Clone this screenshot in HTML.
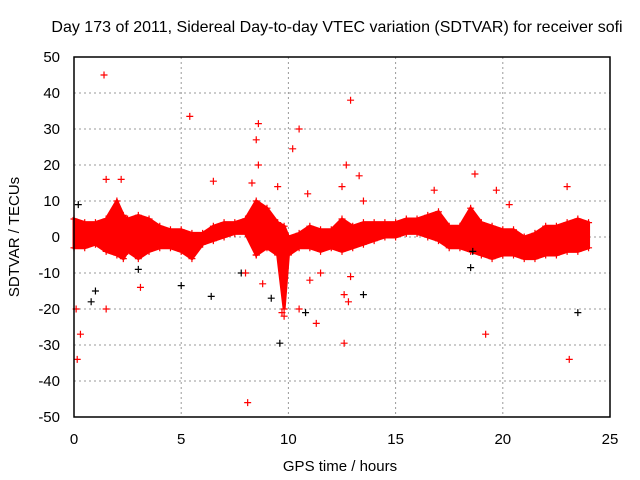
<!DOCTYPE html>
<html><head><meta charset="utf-8"><style>
body{margin:0;background:#fff}
svg{display:block;font-family:"Liberation Sans",sans-serif}
</style></head><body>
<svg id="c" width="640" height="480">
<text x="337" y="32" font-size="16" text-anchor="middle" fill="#000">Day 173 of 2011, Sidereal Day-to-day VTEC variation (SDTVAR) for receiver sofi</text>
<text x="340" y="471" font-size="15" text-anchor="middle">GPS time / hours</text>
<text transform="translate(19,237) rotate(-90)" font-size="15" text-anchor="middle">SDTVAR / TECUs</text>
<g id="grid"></g><g id="marks"></g>
<rect x="74" y="57" width="536" height="360" fill="none" stroke="#000" stroke-width="1.5"/>
</svg>
<script>
const xTicks=[0,5,10,15,20,25];
const yTicks=[-50,-40,-30,-20,-10,0,10,20,30,40,50];
const bandHours=[0,0.5,1,1.5,2,2.3,2.5,3,3.5,4,4.5,5,5.5,6,6.5,7,7.5,8,8.5,9,9.5,9.8,10,10.5,11,11.5,12,12.5,13,13.5,14,14.5,15,15.5,16,16.5,17,17.5,18,18.5,19,19.5,20,20.5,21,21.5,22,22.5,23,23.5,24];
const bandLow=[-3,-3,-2,-4,-5,-6,-4,-6,-4,-3,-3,-4,-6,-2,-1,0,1,1,-5,-3,-5,-20,-5,-3,-3,-4,-3,-4,-3,-2,-1,0,0,1,1,0,-1,-3,-3,-4,-5,-6,-5,-5,-6,-6,-5,-5,-4,-4,-3];
const bandHigh=[5,4,4,5,10,6,5,6,5,3,2,2,1,1,3,4,4,5,10,8,4,3,0,1,3,2,2,5,3,4,4,4,4,5,5,6,7,3,3,8,4,3,2,2,0,1,3,3,4,5,4];
const redX=[1.4,5.4,8.6,8.5,8.6,10.2,10.5,12.9,12.7,8.1,19.2,23.1,0.15,0.3,1.5,0.1,12.6,12.6,11.3,9.8,1.5,2.2,13.3,18.7,19.7,20.3,16.8,3.1,9.7,23.0,12.8,6.5,8.3,8.5,8,10.5,11,11.5,13.5,8.8,9.8,12.5,12.9,9.5,10.9];
const redY=[45,33.5,31.5,27,20,24.5,30,38,20,-46,-27,-34,-34,-27,-20,-20,-29.5,-16,-24,-22,16,16,17,17.5,13,9,13,-14,-21,14,-18,15.5,15,-5,-10,-20,-12,-10,10,-13,-10,14,-11,14,12];
const blackX=[9.6,6.4,0.8,1,5,9.2,10.8,23.5,18.5,0.2,13.5,3,7.8,18.6];
const blackY=[-29.5,-16.5,-18,-15,-13.5,-17,-21,-21,-8.5,9,-16,-9,-10,-4];
const X=h=>74+h*536/25, Y=v=>237-v*3.6;
const NS='http://www.w3.org/2000/svg';
const g=document.getElementById('grid'), m=document.getElementById('marks'), svg=document.getElementById('c');
function el(t,a,p){const e=document.createElementNS(NS,t);for(const k in a)e.setAttribute(k,a[k]);p.appendChild(e);return e;}
xTicks.forEach(t=>{
 const l=el('line',{x1:X(t),x2:X(t),y1:57,y2:417,stroke:'#999','stroke-dasharray':'2,3'},g);
 
 
 const s=el('text',{x:X(t),y:444,'font-size':15,'text-anchor':'middle'},svg);
 s.textContent=t;
 
 
});
yTicks.forEach(t=>{
 const l=el('line',{x1:74,x2:610,y1:Y(t),y2:Y(t),stroke:'#999','stroke-dasharray':'2,3'},g);
 
 
 const s=el('text',{x:60,y:Y(t)+5,'font-size':15,'text-anchor':'end'},svg);
 s.textContent=t;
 
 
});
let pts=bandHours.map((h,i)=>X(h)+','+Y(bandHigh[i]));
for(let i=bandHours.length-1;i>=0;i--)pts.push(X(bandHours[i])+','+Y(bandLow[i]));
const band=el('polygon',{points:pts.join(' '),fill:'#f00',stroke:'#f00','stroke-width':3},m);


function plus(x,y,c,name){
 const p=el('path',{d:`M${x-3.5},${y}h7M${x},${y-3.5}v7`,stroke:c,'stroke-width':1.2,fill:'none'},m);
 
 
}
bandHours.forEach((h,i)=>{plus(X(h),Y(bandHigh[i]),'#f00','band-point');plus(X(h),Y(bandLow[i]),'#f00','band-point');});
blackX.forEach((h,i)=>plus(X(h),Y(blackY[i]),'#000','black-outlier-point'));
redX.forEach((h,i)=>plus(X(h),Y(redY[i]),'#f00','red-outlier-point'));
</script>
</body></html>
